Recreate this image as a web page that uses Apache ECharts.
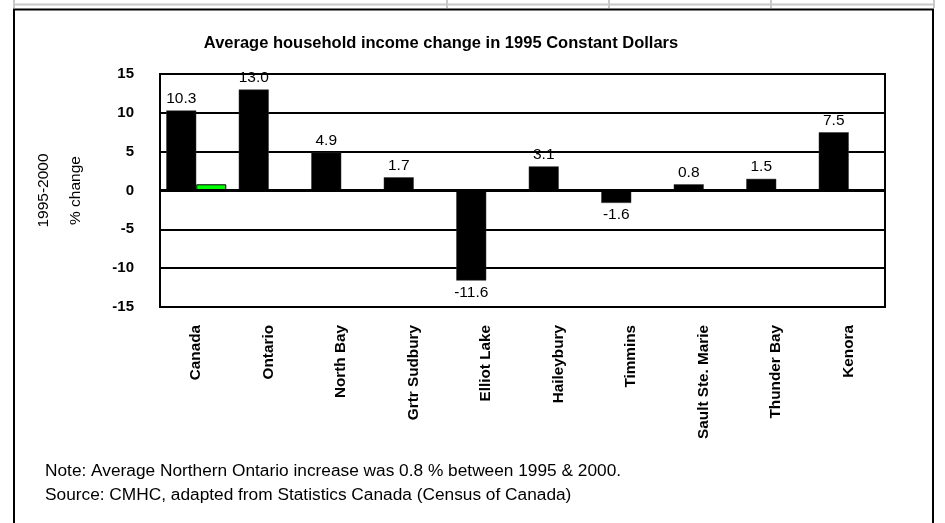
<!DOCTYPE html>
<html>
<head>
<meta charset="utf-8">
<script src="https://cdn.jsdelivr.net/npm/echarts@6/dist/echarts.min.js"></script>
<style>
html,body{margin:0;padding:0;background:#fff;}
#main{width:945px;height:523px;}
</style>
</head>
<body>
<div id="main"></div>
<script>
var categories = ['Canada','Ontario','North Bay','Grtr Sudbury','Elliot Lake','Haileybury','Timmins','Sault Ste. Marie','Thunder Bay','Kenora'];
var incomeChange = [10.3, 13.0, 4.9, 1.7, -11.6, 3.1, -1.6, 0.8, 1.5, 7.5];
var northernAvg = [0.8, null, null, null, null, null, null, null, null, null];
var yTicks = {min: -15, max: 15, interval: 5};
var titleText = 'Average household income change in 1995 Constant Dollars';
var noteText = 'Note: Average Northern Ontario increase was 0.8 % between 1995 & 2000.';
var sourceText = 'Source: CMHC, adapted from Statistics Canada (Census of Canada)';

var FONT = '"Liberation Sans", Arial, sans-serif';
var chart = echarts.init(document.getElementById('main'), null, {renderer: 'canvas'});

var blackData = incomeChange.map(function (v) {
  return {value: v, label: {position: v < 0 ? 'bottom' : 'top'}};
});

chart.setOption({
  backgroundColor: '#fff',
  animation: false,
  title: {
    text: titleText,
    left: 436, top: 30, textAlign: 'center',
    textStyle: {fontFamily: FONT, fontSize: 16.5, fontWeight: 'bold', color: '#000'}
  },
  grid: {
    left: 160, right: 60, top: 74, bottom: 216,
    show: true, borderColor: '#000', borderWidth: 2, backgroundColor: 'transparent'
  },
  xAxis: {
    type: 'category', data: categories,
    axisLine: {show: false, onZero: false},
    axisTick: {show: false},
    axisLabel: {
      interval: 0, rotate: 90, margin: 18,
      fontFamily: FONT, fontSize: 15.3, fontWeight: 'bold', color: '#000'
    }
  },
  yAxis: {
    type: 'value', min: yTicks.min, max: yTicks.max, interval: yTicks.interval,
    name: '1995-2000\n% change', nameLocation: 'middle', nameRotate: 90, nameGap: 68,
    nameTextStyle: {fontFamily: FONT, fontSize: 15.5, color: '#000', lineHeight: 32},
    axisLine: {show: false}, axisTick: {show: false},
    axisLabel: {margin: 26, fontFamily: FONT, fontSize: 15, fontWeight: 'bold', color: '#000'},
    splitLine: {show: true, lineStyle: {color: '#000', width: 2}}
  },
  series: [
    {
      type: 'bar', name: 'Change', data: blackData,
      barWidth: 30, barGap: '0%',
      itemStyle: {color: '#000', borderColor: '#333', borderWidth: 0.5},
      label: {show: true, distance: 4, fontFamily: FONT, fontSize: 15.5, color: '#000',
        formatter: function (p) { return p.value.toFixed(1); }},
      markLine: {
        silent: true, symbol: 'none', label: {show: false},
        lineStyle: {color: '#000', width: 3, type: 'solid'},
        data: [{yAxis: 0}]
      },
      z: 3
    },
    {
      type: 'bar', name: 'Northern Ontario', data: northernAvg,
      barWidth: 30,
      itemStyle: {color: '#00ff00', borderColor: '#000', borderWidth: 1},
      z: 3
    }
  ],
  graphic: [
    {type: 'rect', shape: {x: 14, y: 9.5, width: 919, height: 530}, style: {fill: 'none', stroke: '#000', lineWidth: 2}, z: 100},
    {type: 'line', shape: {x1: 14, y1: 4.5, x2: 934, y2: 4.5}, style: {stroke: '#c8c8c8', lineWidth: 2}},
    {type: 'line', shape: {x1: 14, y1: 0, x2: 14, y2: 8}, style: {stroke: '#c8c8c8', lineWidth: 2}},
    {type: 'line', shape: {x1: 447, y1: 0, x2: 447, y2: 8}, style: {stroke: '#c8c8c8', lineWidth: 2}},
    {type: 'line', shape: {x1: 609, y1: 0, x2: 609, y2: 8}, style: {stroke: '#c8c8c8', lineWidth: 2}},
    {type: 'line', shape: {x1: 771, y1: 0, x2: 771, y2: 8}, style: {stroke: '#c8c8c8', lineWidth: 2}},
    {type: 'line', shape: {x1: 934, y1: 0, x2: 934, y2: 8}, style: {stroke: '#c8c8c8', lineWidth: 2}},
    {type: 'text', left: 45, top: 463, style: {text: noteText, font: '17.3px ' + FONT, fill: '#000'}},
    {type: 'text', left: 45, top: 487, style: {text: sourceText, font: '17.3px ' + FONT, fill: '#000'}}
  ]
});
</script>
</body>
</html>
